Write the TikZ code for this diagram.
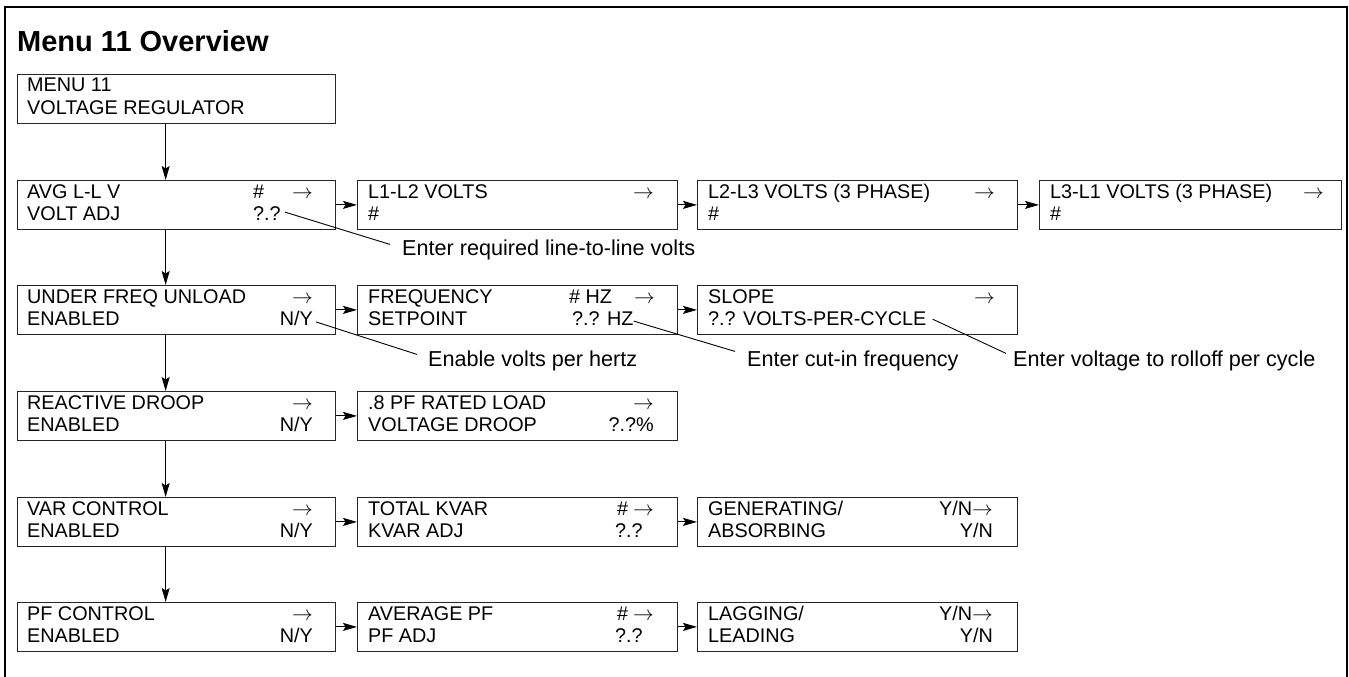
\documentclass[tikz,border=0pt]{standalone}
\usepackage{fontspec}
\setmainfont{Liberation Sans}
\usetikzlibrary{arrows.meta}
\newcommand\boxfont{\fontsize{19.8}{24}\selectfont}
\newcommand\lblfont{\fontsize{21.6}{26}\selectfont}
\newcommand\ttlfont{\fontsize{29}{34}\selectfont\bfseries}
\newcommand\ra{\ensuremath{\rightarrow}}
\begin{document}
\begin{tikzpicture}[x=1pt,y=-1pt,
  box/.style={draw=black!85, line width=1.3pt, anchor=north west, inner sep=0pt, minimum height=48.5pt},
  wa/.style={minimum width=318pt},
  wb/.style={minimum width=320pt},
  wd/.style={minimum width=302pt},
  tl/.style={anchor=base west, inner sep=0pt, font=\boxfont},
  tr/.style={anchor=base east, inner sep=0pt, font=\boxfont},
  lbl/.style={anchor=base west, inner sep=0pt, font=\lblfont},
  arr/.style={-{Stealth[length=14pt,width=8pt,inset=2.5pt]}, line width=1pt, black},
  call/.style={line width=0.9pt, black}]
\useasboundingbox (0,0) rectangle (1349,677);
% frame
\draw[line width=2.8pt] (5,680) -- (5,7) -- (1347,7) -- (1347,680);
\node[anchor=base west, inner sep=0pt, font=\ttlfont] (title) at (17,52) {Menu 11 Overview};

% ---------- boxes ----------
\node[box,wa] (m)  at (17,74)  {};
\node[box,wa] (a1) at (17,180) {};
\node[box,wb] (a2) at (357,180) {};
\node[box,wb] (a3) at (697,180) {};
\node[box,wd] (a4) at (1039,180) {};
\node[box,wa] (u1) at (17,285) {};
\node[box,wb] (u2) at (357,285) {};
\node[box,wb] (u3) at (697,285) {};
\node[box,wa] (r1) at (17,391) {};
\node[box,wb] (r2) at (357,391) {};
\node[box,wa] (v1) at (17,497) {};
\node[box,wb] (v2) at (357,497) {};
\node[box,wb] (v3) at (697,497) {};
\node[box,wa] (p1) at (17,602) {};
\node[box,wb] (p2) at (357,602) {};
\node[box,wb] (p3) at (697,602) {};

% ---------- texts ----------
\node[tl] (mt1) at (27,92) {MENU 11};
\node[tl] (mt2) at (27,114) {VOLTAGE REGULATOR};

\node[tl] (a1t1) at (27,198) {AVG L-L V};
\node[tl] (a1h)  at (253,198) {\#};
\node[tr] (a1r)  at (313,198) {\ra};
\node[tl] (a1t2) at (27,220) {VOLT ADJ};
\node[tl] (a1q)  at (253,220) {?.?};

\node[tl] (a2t1) at (368,198) {L1-L2 VOLTS};
\node[tr] (a2r)  at (654,198) {\ra};
\node[tl] (a2t2) at (368,220) {\#};

\node[tl] (a3t1) at (708,198) {L2-L3 VOLTS (3 PHASE)};
\node[tr] (a3r)  at (995,198) {\ra};
\node[tl] (a3t2) at (708,220) {\#};

\node[tl] (a4t1) at (1050,198) {L3-L1 VOLTS (3 PHASE)};
\node[tr] (a4r)  at (1324,198) {\ra};
\node[tl] (a4t2) at (1050,220) {\#};

\node[tl] (u1t1) at (27,303) {UNDER FREQ UNLOAD};
\node[tr] (u1r)  at (313,303) {\ra};
\node[tl] (u1t2) at (27,325) {ENABLED};
\node[tr] (u1ny) at (313,325) {N/Y};

\node[tl] (u2t1) at (368,303) {FREQUENCY};
\node[tl] (u2h)  at (569,303) {\# HZ};
\node[tr] (u2r)  at (655,303) {\ra};
\node[tl] (u2t2) at (368,325) {SETPOINT};
\node[tl] (u2hz) at (572,325) {?.? HZ};

\node[tl] (u3t1) at (708,303) {SLOPE};
\node[tr] (u3r)  at (995,303) {\ra};
\node[tl] (u3v)  at (708,325) {?.? VOLTS-PER-CYCLE};

\node[tl] (r1t1) at (27,409) {REACTIVE DROOP};
\node[tr] (r1r)  at (313,409) {\ra};
\node[tl] (r1t2) at (27,431) {ENABLED};
\node[tr] (r1ny) at (313,431) {N/Y};

\node[tl] (r2t1) at (368,409) {.8 PF RATED LOAD};
\node[tr] (r2r)  at (654,409) {\ra};
\node[tl] (r2t2) at (368,431) {VOLTAGE DROOP};
\node[tr] (r2q)  at (654,431) {?.?\%};

\node[tl] (v1t1) at (27,515) {VAR CONTROL};
\node[tr] (v1r)  at (313,515) {\ra};
\node[tl] (v1t2) at (27,537) {ENABLED};
\node[tr] (v1ny) at (313,537) {N/Y};

\node[tl] (v2t1) at (368,515) {TOTAL KVAR};
\node[tl] (v2h)  at (617,515) {\#};
\node[tr] (v2r)  at (654,515) {\ra};
\node[tl] (v2t2) at (368,537) {KVAR ADJ};
\node[tl] (v2q)  at (615,537) {?.?};

\node[tl] (v3t1) at (708,515) {GENERATING/};
\node[tr] (v3r)  at (993,515) {Y/N\ra};
\node[tl] (v3t2) at (708,537) {ABSORBING};
\node[tr] (v3y)  at (993,537) {Y/N};

\node[tl] (p1t1) at (27,620) {PF CONTROL};
\node[tr] (p1r)  at (313,620) {\ra};
\node[tl] (p1t2) at (27,642) {ENABLED};
\node[tr] (p1ny) at (313,642) {N/Y};

\node[tl] (p2t1) at (368,620) {AVERAGE PF};
\node[tl] (p2h)  at (617,620) {\#};
\node[tr] (p2r)  at (654,620) {\ra};
\node[tl] (p2t2) at (368,642) {PF ADJ};
\node[tl] (p2q)  at (615,642) {?.?};

\node[tl] (p3t1) at (708,620) {LAGGING/};
\node[tr] (p3r)  at (993,620) {Y/N\ra};
\node[tl] (p3t2) at (708,642) {LEADING};
\node[tr] (p3y)  at (993,642) {Y/N};

% ---------- callout labels ----------
\node[lbl] (e1) at (402,255) {Enter required line-to-line volts};
\node[lbl] (e2) at (428,366) {Enable volts per hertz};
\node[lbl] (e3) at (747,366) {Enter cut-in frequency};
\node[lbl] (e4) at (1013,366) {Enter voltage to rolloff per cycle};

% ---------- vertical arrows ----------
\draw[arr] ([xshift=-11pt]m.south)  -- ([xshift=-11pt]a1.north);
\draw[arr] ([xshift=-11pt]a1.south) -- ([xshift=-11pt]u1.north);
\draw[arr] ([xshift=-11pt]u1.south) -- ([xshift=-11pt]r1.north);
\draw[arr] ([xshift=-11pt]r1.south) -- ([xshift=-11pt]v1.north);
\draw[arr] ([xshift=-11pt]v1.south) -- ([xshift=-11pt]p1.north);

% ---------- horizontal arrows ----------
\draw[arr] (a1.east) -- (a2.west);
\draw[arr] (a2.east) -- (a3.west);
\draw[arr] (a3.east) -- (a4.west);
\draw[arr] (u1.east) -- (u2.west);
\draw[arr] (u2.east) -- (u3.west);
\draw[arr] (r1.east) -- (r2.west);
\draw[arr] (v1.east) -- (v2.west);
\draw[arr] (v2.east) -- (v3.west);
\draw[arr] (p1.east) -- (p2.west);
\draw[arr] (p2.east) -- (p3.west);

% ---------- callout lines ----------
\draw[call] ([shift={(4,-1)}]a1q.east) -- ([shift={(-12,-5)}]e1.west);
\draw[call] ([shift={(3,4)}]u1ny.east) -- ([shift={(-11,-6)}]e2.west);
\draw[call] ([shift={(0,3)}]u2hz.east) -- ([shift={(-12,-9)}]e3.west);
\draw[call] ([shift={(6,1)}]u3v.east) -- ([shift={(-7,-7)}]e4.west);
\end{tikzpicture}
\end{document}
